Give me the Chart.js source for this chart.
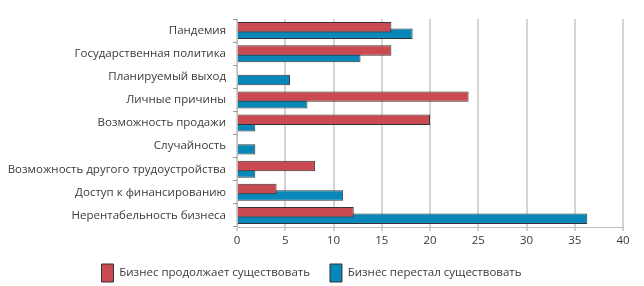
<!DOCTYPE html>
<html>
<head>
<meta charset="utf-8">
<script src="https://cdn.jsdelivr.net/npm/chart.js@4"></script>
<style>
  html, body { margin: 0; padding: 0; background: #fff; }
  #wrap { width: 644px; height: 286px; position: relative; }
</style>
</head>
<body>
<div id="wrap"><canvas id="chart"></canvas></div>
<script>
// Причины закрытия / сохранения бизнеса, %
const categories = [
  'Пандемия',
  'Государственная политика',
  'Планируемый выход',
  'Личные причины',
  'Возможность продажи',
  'Случайность',
  'Возможность другого трудоустройства',
  'Доступ к финансированию',
  'Нерентабельность бизнеса'
];
const seriesNames = ['Бизнес продолжает существовать', 'Бизнес перестал существовать'];
const continuing = [16.0, 16.0, null, 24.0, 20.0, null, 8.1, 4.1, 12.1];
const ceased     = [18.2, 12.8, 5.5, 7.3, 1.9, 1.9, 1.9, 11.0, 36.3];
const xTicks     = [0, 5, 10, 15, 20, 25, 30, 35, 40];

const RED  = '#c94a50';
const BLUE = '#0888b8';
const EDGE = '#353535';
const FONT = { family: '"Open Sans", sans-serif', size: 11.5 };

new Chart(document.getElementById('chart').getContext('2d'), {
  type: 'bar',
  data: {
    labels: categories,
    datasets: [
      {
        label: seriesNames[0],
        data: continuing,
        backgroundColor: RED,
        borderColor: EDGE,
        borderWidth: 1,
        categoryPercentage: 0.565,
        barPercentage: 1.6,
      },
      {
        label: seriesNames[1],
        data: ceased,
        backgroundColor: BLUE,
        borderColor: EDGE,
        borderWidth: 1,
        categoryPercentage: 0.565,
        barPercentage: 1.6,
      }
    ]
  },
  options: {
    indexAxis: 'y',
    responsive: true,
    maintainAspectRatio: false,
    animation: false,
    layout: { padding: { top: 19, right: 21, left: 0, bottom: -6 } },
    plugins: {
      tooltip: { enabled: false },
      legend: {
        position: 'bottom',
        labels: {
          font: FONT,
          color: '#3a3a3a',
          boxWidth: 12,
          boxHeight: 18,
          padding: 20,
        }
      }
    },
    scales: {
      x: {
        min: 0,
        max: 40,
        afterBuildTicks: s => { s.ticks = xTicks.map(v => ({ value: v })); },
        afterFit: s => { s.height = 17; },
        grid: { color: '#d4d4d4', lineWidth: 2, tickLength: 4, drawTicks: true },
        border: { color: '#bdbdbd', width: 1 },
        ticks: { font: FONT, color: '#3a3a3a', padding: 3 },
      },
      y: {
        afterFit: s => { s.width = 237; },
        grid: { offset: true, drawOnChartArea: false, color: '#9a9a9a', tickLength: 4 },
        border: { color: '#bdbdbd', width: 1 },
        ticks: { font: FONT, color: '#3a3a3a', padding: 7 },
      }
    }
  }
});
</script>
</body>
</html>
